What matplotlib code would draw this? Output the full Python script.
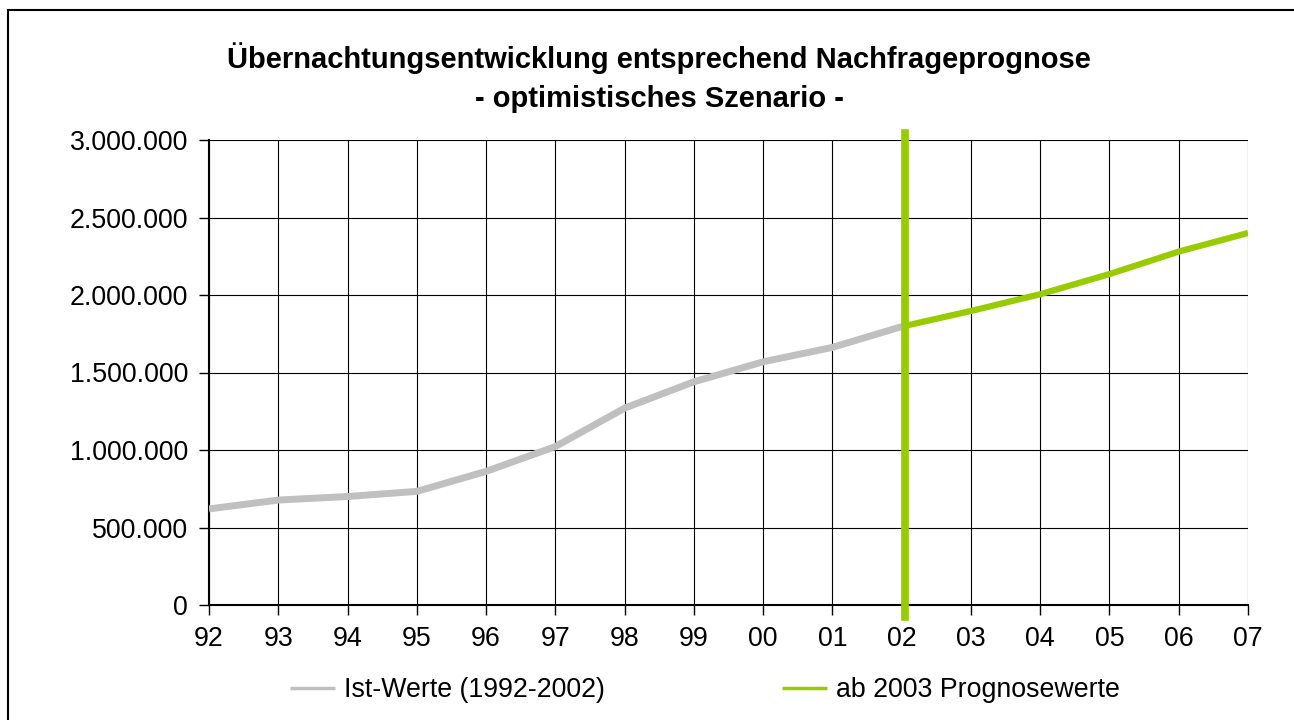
import matplotlib
matplotlib.use("Agg")
import matplotlib.pyplot as plt
from matplotlib.patches import Rectangle

categories = ['92', '93', '94', '95', '96', '97', '98', '99', '00', '01', '02',
              '03', '04', '05', '06', '07']
ist_werte = [620000, 677000, 700000, 733000, 862000, 1022000, 1270000,
             1440000, 1569000, 1662000, 1796000]
prognose_labels = ['02', '03', '04', '05', '06', '07']
prognose_werte = [1796000, 1897000, 2005000, 2135000, 2280000, 2400000]
ytick_values = [0, 500000, 1000000, 1500000, 2000000, 2500000, 3000000]
ytick_labels = ['0', '500.000', '1.000.000', '1.500.000', '2.000.000',
                '2.500.000', '3.000.000']

plt.rcParams['font.family'] = ['Liberation Sans', 'DejaVu Sans']
FS = 19.3

fig = plt.figure(figsize=(12.94, 7.2), dpi=100)
fig.patch.set_facecolor('white')
fig.add_artist(Rectangle((8 / 1294, -0.01), 1.2, 1 - 10 / 720 + 0.01,
                         transform=fig.transFigure, fill=False,
                         edgecolor='black', linewidth=1.5))

ax = fig.add_axes([209 / 1294, 1 - 605 / 720, (1248 - 209) / 1294, (605 - 140) / 720])

x_ist = list(range(len(ist_werte)))
x_prog = [categories.index(c) for c in prognose_labels]

ax.plot(x_ist, ist_werte, color='#C0C0C0', linewidth=5, solid_capstyle='butt',
        label='Ist-Werte (1992-2002)', zorder=3)
ax.plot(x_prog, prognose_werte, color='#99CC00', linewidth=4.5,
        solid_capstyle='butt', label='ab 2003 Prognosewerte', zorder=4)
ax.axvline(categories.index('02') + 0.05, ymin=-0.025, ymax=1.016,
           color='#99CC00', linewidth=5.5, clip_on=False, zorder=5)

ax.set_xlim(0, len(categories) - 1)
ax.set_ylim(0, 3000000)
ax.set_xticks(range(len(categories)))
ax.set_xticklabels(categories)
ax.set_yticks(ytick_values)
ax.set_yticklabels(ytick_labels)
ax.grid(True, color='black', linewidth=0.8)
ax.set_axisbelow(True)
ax.tick_params(axis='both', labelsize=FS, length=7, width=1, color='black',
               direction='out', pad=8)
for side in ['top', 'right']:
    ax.spines[side].set_visible(False)
for side in ['left', 'bottom']:
    ax.spines[side].set_linewidth(1.5)

fig.text(0.5095, 1 - 77.5 / 720,
         'Übernachtungsentwicklung entsprechend Nachfrageprognose\n- optimistisches Szenario -',
         ha='center', va='center', fontsize=21, fontweight='bold',
         linespacing=1.5)

leg = fig.legend(loc='center', bbox_to_anchor=(705 / 1294, 1 - 690 / 720), ncol=2,
                 frameon=False, fontsize=FS, handlelength=1.67, columnspacing=6.6,
                 handletextpad=0.35)
for line in leg.get_lines():
    line.set_linewidth(2.5)

fig.savefig('out.png', dpi=100)
